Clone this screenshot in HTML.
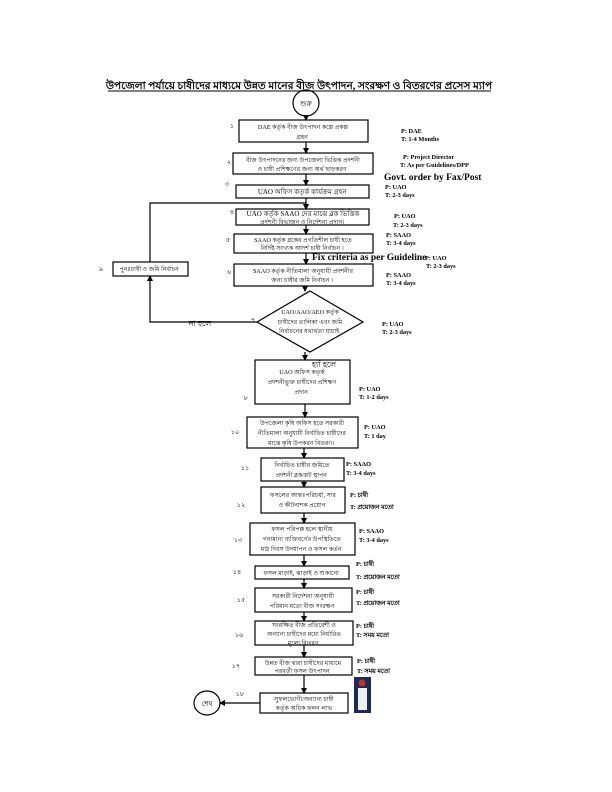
<!DOCTYPE html>
<html><head><meta charset="utf-8"><style>
html,body{margin:0;padding:0;background:#fff;}
svg{display:block}
text{font-family:"Liberation Serif","Noto Sans CJK SC",serif;fill:#000}
.b{font-size:6.2px;text-anchor:middle}
.n{font-size:6.5px;text-anchor:middle}
.r{font-size:6.3px;font-weight:bold}
</style></head><body>
<svg width="612" height="792" viewBox="0 0 612 792" xmlns="http://www.w3.org/2000/svg">
<defs><marker id="a" markerWidth="6" markerHeight="6" refX="5" refY="3" orient="auto" markerUnits="userSpaceOnUse"><path d="M0,0 L6,3 L0,6 z" fill="#000"/></marker></defs>
<text x="299" y="89" style="font-size:10.5px;font-weight:bold;text-anchor:middle">উপজেলা পর্যায়ে চাষীদের মাধ্যমে উন্নত মানের বীজ উৎপাদন, সংরক্ষণ ও বিতরণের  প্রসেস ম্যাপ</text>
<line x1="108" y1="91" x2="491" y2="91" stroke="#000" stroke-width="1"/>
<g fill="none" stroke="#000" stroke-width="1.2">
<circle cx="306" cy="103" r="13"/>
<rect x="239" y="120" width="129" height="22"/>
<rect x="233" y="153" width="140" height="21"/>
<rect x="236" y="185" width="133" height="13"/>
<rect x="236" y="209" width="133" height="16"/>
<rect x="234" y="234" width="139" height="19"/>
<rect x="113" y="262" width="75" height="14"/>
<rect x="234" y="264" width="139" height="22"/>
<polygon points="310,291 363,322 310,352 257,322"/>
<rect x="255" y="360" width="95" height="44"/>
<rect x="247" y="417" width="111" height="31"/>
<rect x="261" y="458" width="83" height="23"/>
<rect x="261" y="487" width="84" height="26"/>
<rect x="250" y="523" width="105" height="32"/>
<rect x="255" y="566" width="94" height="13"/>
<rect x="255" y="588" width="97" height="24"/>
<rect x="255" y="621" width="98" height="24"/>
<rect x="255" y="657" width="97" height="18"/>
<rect x="260" y="693" width="88" height="20"/>
<ellipse cx="207" cy="703" rx="13" ry="12"/>
</g>
<g stroke="#000" stroke-width="1.2" fill="none" marker-end="url(#a)">
<line x1="306" y1="116" x2="306" y2="120"/>
<line x1="306" y1="142" x2="306" y2="153"/>
<line x1="306" y1="174" x2="306" y2="185"/>
<line x1="306" y1="198" x2="306" y2="209"/>
<line x1="306" y1="225" x2="306" y2="234"/>
<line x1="306" y1="253" x2="306" y2="264"/>
<polyline points="305,286 305,291"/>
<line x1="305" y1="352" x2="305" y2="360"/>
<line x1="305" y1="404" x2="305" y2="417"/>
<line x1="304" y1="448" x2="304" y2="458"/>
<line x1="304" y1="481" x2="304" y2="487"/>
<line x1="304" y1="513" x2="304" y2="523"/>
<line x1="304" y1="555" x2="304" y2="566"/>
<line x1="304" y1="579" x2="304" y2="588"/>
<line x1="304" y1="612" x2="304" y2="621"/>
<line x1="304" y1="645" x2="304" y2="657"/>
<line x1="304" y1="675" x2="304" y2="693"/>
<line x1="260" y1="703" x2="220" y2="703"/>
<polyline points="257,322 150,322 150,276"/>
<polyline points="150,262 150,203 306,203 306,209"/>
</g>
<rect x="354" y="677" width="17" height="36" fill="#1d2a55"/>
<rect x="358" y="688" width="9" height="22" fill="#eee"/>
<circle cx="362" cy="683" r="3.5" fill="#b33"/>
<text x="306" y="106" class="n" style="font-size:7px">শুরু</text>
<text x="207" y="706" class="n" style="font-size:7px">শেষ</text>
<text class="b"><tspan x="303" y="129">DAE কর্তৃক বীজ উৎপাদন কল্পে প্রকল্প</tspan><tspan x="303" y="139">গ্রহন</tspan>
<tspan x="303" y="162">বীজ উৎপাদনের জন্য উপজেলা ভিত্তিক প্রদর্শনী</tspan><tspan x="303" y="171">ও চাষী প্রশিক্ষণের জন্য অর্থ ছাড়করণ</tspan>
<tspan x="303" y="194" style="font-size:7px">UAO অফিস কতৃর্ক কার্যক্রম গ্রহন</tspan>
<tspan x="303" y="216" style="font-size:7px">UAO কর্তৃক SAAO দের মাঝে ব্লক ভিত্তিক</tspan><tspan x="303" y="224">প্রর্দশনী বিভাজন ও নির্দেশনা প্রদান।</tspan>
<tspan x="303" y="242">SAAO কর্তৃক ব্লকের প্রগতিশীল চাষী হতে</tspan><tspan x="303" y="250">নির্দিষ্ট সংখ্যক আদর্শ চাষী নির্বাচন ।</tspan>
<tspan x="150" y="271">পুনঃচাষী ও জমি নির্বাচন</tspan>
<tspan x="303" y="273">SAAO কর্তৃক নীতিমালা অনুযায়ী প্রদর্শনীর</tspan><tspan x="303" y="282">জন্য চাষীর জমি নির্বাচন ।</tspan>
<tspan x="310" y="314">UAO/AAO/AEO  কর্তৃক</tspan><tspan x="310" y="324">চাষীদের তালিকা  এবং জমি</tspan><tspan x="310" y="333">নির্বাচনের যথার্থতা যাচাই</tspan>
<tspan x="302" y="374">UAO অফিস কতৃর্ক</tspan><tspan x="302" y="384">প্রর্দশনীভুক্ত চাষীদের প্রশিক্ষণ</tspan><tspan x="302" y="394">প্রদান</tspan>
<tspan x="302" y="425">উপজেলা কৃষি অফিস হতে সরকারী</tspan><tspan x="302" y="435">নীতিমালা অনুযায়ী নির্বাচিত চাষীদের</tspan><tspan x="302" y="445">মাঝে কৃষি উপকরন বিতরণ।</tspan>
<tspan x="302" y="467">নির্বাচিত চাষীর জমিতে</tspan><tspan x="302" y="477">প্রর্দশনী ব্লক/প্লট স্থাপন</tspan>
<tspan x="303" y="497">ফসলের আন্তঃপরিচর্যা, সার</tspan><tspan x="303" y="507">ও কীটনাশক প্রয়োগ</tspan>
<tspan x="302" y="531">ফসল পরিপক্ক হলে স্থানীয়</tspan><tspan x="302" y="541">গন্যমান্য ব্যক্তিবর্গের উপস্থিতিতে</tspan><tspan x="302" y="551">মাঠ দিবস উদযাপন ও ফসল কর্তন</tspan>
<tspan x="302" y="575">ফসল মাড়াই, ঝাড়াই ও শুকানো</tspan>
<tspan x="303" y="598">সরকারী নির্দেশনা অনুযায়ী</tspan><tspan x="303" y="608">পরিমান মতো বীজ সংরক্ষণ</tspan>
<tspan x="304" y="627">সংরক্ষিত বীজ প্রতিবেশী ও</tspan><tspan x="304" y="636">অন্যান্য চাষীদের মধ্যে নির্ধারিত</tspan><tspan x="304" y="645">মূল্যে বিতরণ</tspan>
<tspan x="303" y="665">উন্নত বীজ দ্বারা চাষীদের মাধ্যমে</tspan><tspan x="303" y="673">পরবর্তী ফসল উৎপাদন</tspan>
<tspan x="304" y="701">সুফলভোগী/অন্যান্য চাষী</tspan><tspan x="304" y="710">কর্তৃক অধিক ফলন লাভ</tspan></text>
<text class="n"><tspan x="232" y="128">১</tspan><tspan x="229" y="164">২</tspan><tspan x="227" y="186">৩</tspan><tspan x="232" y="214">৪</tspan><tspan x="228" y="242">৫</tspan><tspan x="229" y="274">৬</tspan><tspan x="253" y="322">৭</tspan><tspan x="246" y="400">৮</tspan><tspan x="101" y="271">৯</tspan><tspan x="235" y="434">১০</tspan><tspan x="245" y="470">১১</tspan><tspan x="241" y="507">১২</tspan><tspan x="238" y="542">১৩</tspan><tspan x="237" y="574">১৪</tspan><tspan x="241" y="602">১৫</tspan><tspan x="239" y="637">১৬</tspan><tspan x="236" y="668">১৭</tspan><tspan x="240" y="696">১৮</tspan></text>
<text x="200" y="326" style="font-size:8px;text-anchor:middle">না হলে</text>
<text x="324" y="367" style="font-size:8px;text-anchor:middle">হ্যাঁ হলে</text>
<text x="312" y="260" style="font-size:9.5px;font-weight:bold">Fix criteria as per Guideline</text>
<text x="384" y="180" style="font-size:9.5px;font-weight:bold">Govt. order by Fax/Post</text>
<text class="r">
<tspan x="401" y="133">P: DAE</tspan><tspan x="401" y="141">T: 1-4 Months</tspan>
<tspan x="403" y="159">P: Project Director</tspan><tspan x="400" y="167">T: As per Guidelines/DPP</tspan>
<tspan x="385" y="189">P: UAO</tspan><tspan x="385" y="197">T: 2-3 days</tspan>
<tspan x="394" y="218">P: UAO</tspan><tspan x="393" y="227">T: 2-3 days</tspan>
<tspan x="386" y="237">P: SAAO</tspan><tspan x="386" y="245">T: 3-4 days</tspan>
<tspan x="425" y="260">P: UAO</tspan><tspan x="426" y="268">T: 2-3 days</tspan>
<tspan x="386" y="277">P: SAAO</tspan><tspan x="386" y="285">T: 3-4 days</tspan>
<tspan x="382" y="326">P: UAO</tspan><tspan x="382" y="334">T: 2-3 days</tspan>
<tspan x="359" y="391">P: UAO</tspan><tspan x="359" y="399">T: 1-2 days</tspan>
<tspan x="364" y="429">P: UAO</tspan><tspan x="364" y="438">T: 1 day</tspan>
<tspan x="346" y="466">P: SAAO</tspan><tspan x="346" y="475">T: 3-4 days</tspan>
<tspan x="350" y="497">P: চাষী</tspan><tspan x="350" y="509">T: প্রয়োজন মতো</tspan>
<tspan x="359" y="533">P: SAAO</tspan><tspan x="359" y="542">T: 3-4 days</tspan>
<tspan x="356" y="566">P: চাষী</tspan><tspan x="356" y="579">T: প্রয়োজন মতো</tspan>
<tspan x="356" y="594">P: চাষী</tspan><tspan x="356" y="605">T: প্রয়োজন মতো</tspan>
<tspan x="356" y="628">P: চাষী</tspan><tspan x="356" y="637">T: সময় মতো</tspan>
<tspan x="357" y="663">P: চাষী</tspan><tspan x="357" y="673">T: সময় মতো</tspan>
</text>
</svg>
</body></html>
